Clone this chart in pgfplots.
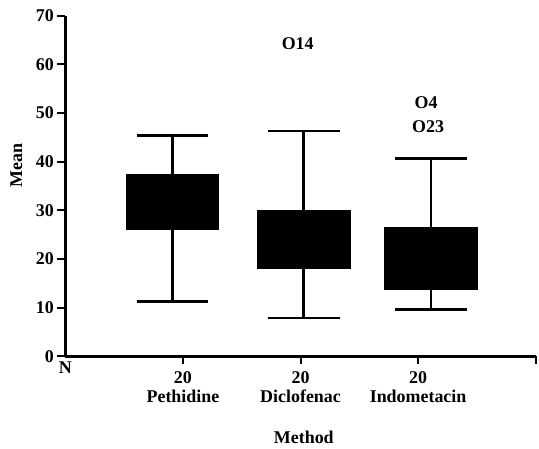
\documentclass[border=0pt]{standalone}
\usepackage{pgfplots}
\pgfplotsset{compat=1.18}
\usepgfplotslibrary{statistics}
\usepackage{fontspec}
\setmainfont{Liberation Serif}
\newcommand{\lbl}{\bfseries\fontsize{18}{19}\selectfont}
\begin{document}
\begin{tikzpicture}
\begin{axis}[
 scale only axis, width=472.3pt, height=342pt,
 xmin=0, xmax=4, ymin=0, ymax=70,
 axis lines=left, axis line style={-, line width=2.6pt},
 clip=false,
 ytick={0,10,...,70},
 xtick={1,2,3,4},
 xticklabels={{20\\Pethidine},{20\\Diclofenac},{20\\Indometacin},{}},
 xticklabel style={align=center, font=\lbl, yshift=-4pt},
 yticklabel style={font=\lbl},
 /pgf/number format/assume math mode=true,
 tick align=outside, major tick length=8pt,
 tick style={line width=2pt, black},
 ylabel={Mean},
 ylabel style={at={(axis description cs:-0.104,0.561)}, anchor=center, font=\lbl, inner sep=0pt},
 xlabel={Method},
 xlabel style={at={(axis description cs:0.507,-0.237)}, anchor=center, font=\lbl, inner sep=0pt},
 boxplot/draw direction=y,
 boxplot/every box/.style={fill=black, draw=black, line width=1pt},
 boxplot/every whisker/.style={black, line width=2.6pt},
 boxplot/every median/.style={black},
]
\addplot[black, boxplot prepared={draw direction=y, draw position=0.911, lower whisker=11.3, lower quartile=26.1, median=31, upper quartile=37.25, upper whisker=45.4, box extend=0.788, whisker extend=0.61}] coordinates {};
\addplot[black, boxplot prepared={draw direction=y, draw position=2.027, lower whisker=7.85, lower quartile=17.95, median=23, upper quartile=29.9, upper whisker=46.3, box extend=0.788, whisker extend=0.61}] coordinates {};
\addplot[black, boxplot prepared={draw direction=y, draw position=3.11, lower whisker=9.6, lower quartile=13.7, median=20, upper quartile=26.4, upper whisker=40.7, box extend=0.788, whisker extend=0.61}] coordinates {};
\addplot[only marks, mark=none, nodes near coords, point meta=explicit symbolic, nodes near coords style={anchor=center, font=\lbl, black}] coordinates {(1.976,64.3)[O14] (3.068,52.1)[O4] (3.085,47.1)[O23]};
\node[font=\lbl, anchor=north, inner sep=0pt] at (axis cs:0,-1.2) {N};
\path (rel axis cs:-0.139,-0.27) rectangle (rel axis cs:1.002,1.046);
\end{axis}
\end{tikzpicture}
\end{document}
